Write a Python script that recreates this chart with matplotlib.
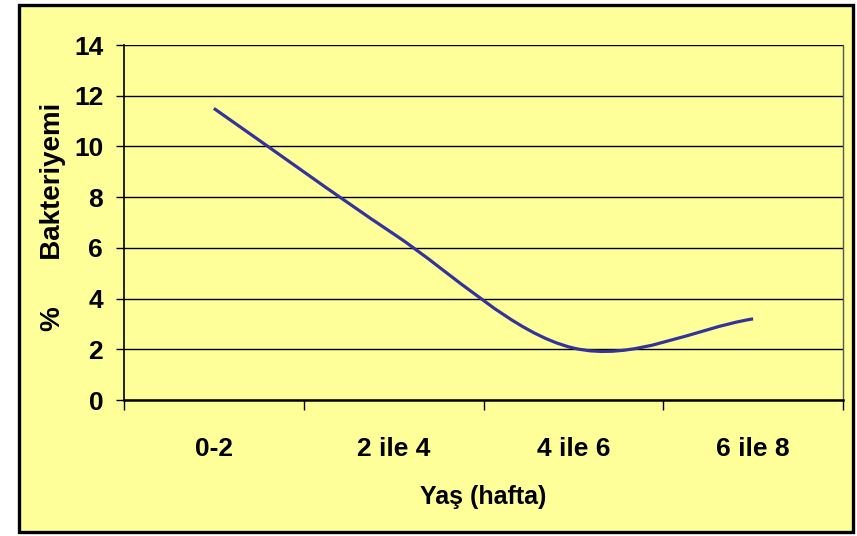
import numpy as np
import matplotlib.pyplot as plt
from matplotlib.path import Path
from matplotlib.patches import PathPatch, Rectangle

# veri
kategoriler = ['0-2', '2 ile 4', '4 ile 6', '6 ile 8']
bakteriyemi = [11.5, 6.55, 2.05, 3.2]
y_ticks = [0, 2, 4, 6, 8, 10, 12, 14]

plt.rcParams['font.family'] = ['Liberation Sans', 'DejaVu Sans']
plt.rcParams['font.weight'] = 'bold'

sari = '#FFFF99'
lacivert = '#333399'

fig = plt.figure(figsize=(8.57, 5.36), dpi=100)
fig.patch.set_facecolor('white')

# dis cerceve
cerceve = Rectangle((18.5 / 857, 4.5 / 536), 834 / 857, 527 / 536,
                    transform=fig.transFigure, facecolor=sari,
                    edgecolor='black', linewidth=2.4, zorder=-5)
fig.add_artist(cerceve)

ax = fig.add_axes([124 / 857, 1 - 400 / 536, 719 / 857, 355 / 536])
ax.set_facecolor(sari)

# yumusatilmis cizgi (Excel tarzi Bezier), uclarda yansitilmis noktalar
pts = np.column_stack([np.arange(len(bakteriyemi), dtype=float),
                       np.array(bakteriyemi, dtype=float)])
n = len(pts)
ext = np.vstack([2 * pts[0] - pts[1], pts, 2 * pts[-1] - pts[-2]])
verts = [tuple(pts[0])]
codes = [Path.MOVETO]
for i in range(n - 1):
    p0, p1, p2, p3 = ext[i], ext[i + 1], ext[i + 2], ext[i + 3]
    c1 = p1 + (p2 - p0) / 6
    c2 = p2 - (p3 - p1) / 6
    verts += [tuple(c1), tuple(c2), tuple(p2)]
    codes += [Path.CURVE4] * 3
ax.add_patch(PathPatch(Path(verts, codes), facecolor='none', edgecolor=lacivert,
                       linewidth=2.3, capstyle='butt', zorder=3))

ax.set_xlim(-0.5, len(kategoriler) - 0.5)
ax.set_ylim(0, 14)
ax.set_yticks(y_ticks)
ax.yaxis.grid(True, color='black', linewidth=1.0)
ax.set_axisbelow(True)

ax.set_xticks(np.arange(len(kategoriler) + 1) - 0.5)
ax.set_xticklabels([])
ax.set_xticks(np.arange(len(kategoriler)), minor=True)
ax.set_xticklabels(kategoriler, minor=True)
ax.tick_params(axis='x', which='major', length=7, width=1.0, color='black')
ax.tick_params(axis='x', which='minor', length=0, pad=27, labelsize=19)
ax.tick_params(axis='y', length=6, width=1.0, pad=9, labelsize=19)

ax.spines['top'].set_visible(False)
ax.spines['left'].set_linewidth(1.2)
ax.spines['bottom'].set_linewidth(1.8)
ax.spines['right'].set_color('#555555')
ax.spines['right'].set_linewidth(1.0)

ax.set_xlabel('Yaş (hafta)', fontsize=18, fontweight='bold', labelpad=17)
fig.text(52.5 / 857, 1 - 217 / 536, '%      Bakteriyemi', rotation=90,
         ha='center', va='center', fontsize=20, fontweight='bold')

fig.savefig('out.png', dpi=100, facecolor='white')
